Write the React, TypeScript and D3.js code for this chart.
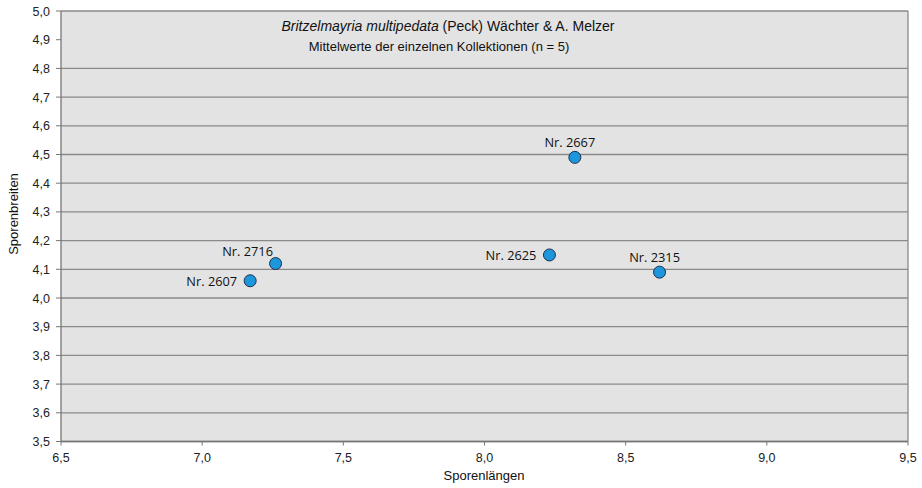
import React from "react";
import * as d3 from "d3";

const labels = ["Nr. 2607", "Nr. 2716", "Nr. 2667", "Nr. 2625", "Nr. 2315"];
const xValues = [7.17, 7.26, 8.32, 8.23, 8.62];
const yValues = [4.06, 4.12, 4.49, 4.15, 4.09];
const labelPos = ["left", "aboveLeft", "above", "left", "above"];
const xTicks = [6.5, 7.0, 7.5, 8.0, 8.5, 9.0, 9.5];
const yTicks = [3.5, 3.6, 3.7, 3.8, 3.9, 4.0, 4.1, 4.2, 4.3, 4.4, 4.5, 4.6, 4.7, 4.8, 4.9, 5.0];
const hiddenGrid = [4.9];

const W = 922, H = 488;
const L = 61, R = 908, T = 11, B = 441.5;

export default function App() {
  const x = d3.scaleLinear().domain([6.5, 9.5]).range([L, R]);
  const y = d3.scaleLinear().domain([3.5, 5.0]).range([B, T]);
  const fmt = (v: number) => v.toFixed(1).replace(".", ",");
  const axisFont = "Liberation Sans, Arial, sans-serif";
  const labelFont = "'Open Sans', 'Noto Sans', sans-serif";
  return (
    <svg width={W} height={H} style={{ position: "absolute", left: 0, top: 0, background: "#fff" }}>
      <rect x={L} y={T} width={R - L} height={B - T} fill="#e3e3e3" />
      {yTicks.map((t) => (
        <g key={t}>
          {hiddenGrid.indexOf(t) < 0 && (
            <line x1={L} x2={R} y1={y(t)} y2={y(t)} stroke="#8a8a8a" strokeWidth={1.3} />
          )}
          <line x1={L - 5} x2={L} y1={y(t)} y2={y(t)} stroke="#777" strokeWidth={1} />
          <text x={50} y={y(t) + 4.5} textAnchor="end" fontFamily={axisFont} fontSize={12.5} fill="#222">{fmt(t)}</text>
        </g>
      ))}
      {xTicks.map((t) => (
        <g key={t}>
          <line x1={x(t)} x2={x(t)} y1={B} y2={B + 4} stroke="#777" strokeWidth={1} />
          <text x={x(t)} y={462} textAnchor="middle" fontFamily={axisFont} fontSize={12.5} fill="#222">{fmt(t)}</text>
        </g>
      ))}
      <line x1={L} x2={L} y1={T} y2={B} stroke="#777" strokeWidth={1.3} />
      <line x1={R} x2={R} y1={T} y2={B} stroke="#8a8a8a" strokeWidth={1.3} />
      <line x1={L} x2={R} y1={B} y2={B} stroke="#777" strokeWidth={1.3} />
      <text x={448} y={31} textAnchor="middle" fontFamily={axisFont} fontSize={14} fill="#111">
        <tspan fontStyle="italic">Britzelmayria multipedata</tspan> (Peck) Wächter &amp; A. Melzer
      </text>
      <text x={439} y={51} textAnchor="middle" fontFamily={axisFont} fontSize={13} fill="#111">Mittelwerte der einzelnen Kollektionen (n = 5)</text>
      <text x={484} y={480} textAnchor="middle" fontFamily={axisFont} fontSize={13} fill="#111">Sporenlängen</text>
      <text transform={`translate(18,214) rotate(-90)`} textAnchor="middle" fontFamily={axisFont} fontSize={13} fill="#111">Sporenbreiten</text>
      {labels.map((lab, i) => {
        const cx = x(xValues[i]);
        const cy = y(yValues[i]);
        const p = labelPos[i];
        let tx = cx, ty = cy, anchor = "middle";
        if (p === "left") { tx = cx - 13; ty = cy + 5; anchor = "end"; }
        else if (p === "above") { tx = cx - 5; ty = cy - 10; anchor = "middle"; }
        else if (p === "aboveLeft") { tx = cx - 28; ty = cy - 8; anchor = "middle"; }
        return (
          <g key={lab}>
            <circle cx={cx} cy={cy} r={6} fill="#1e96dc" stroke="#1a3050" strokeWidth={1} />
            <text x={tx} y={ty} textAnchor={anchor} fontFamily={labelFont} fontSize={12.8} fill="#111">{lab}</text>
          </g>
        );
      })}
    </svg>
  );
}
